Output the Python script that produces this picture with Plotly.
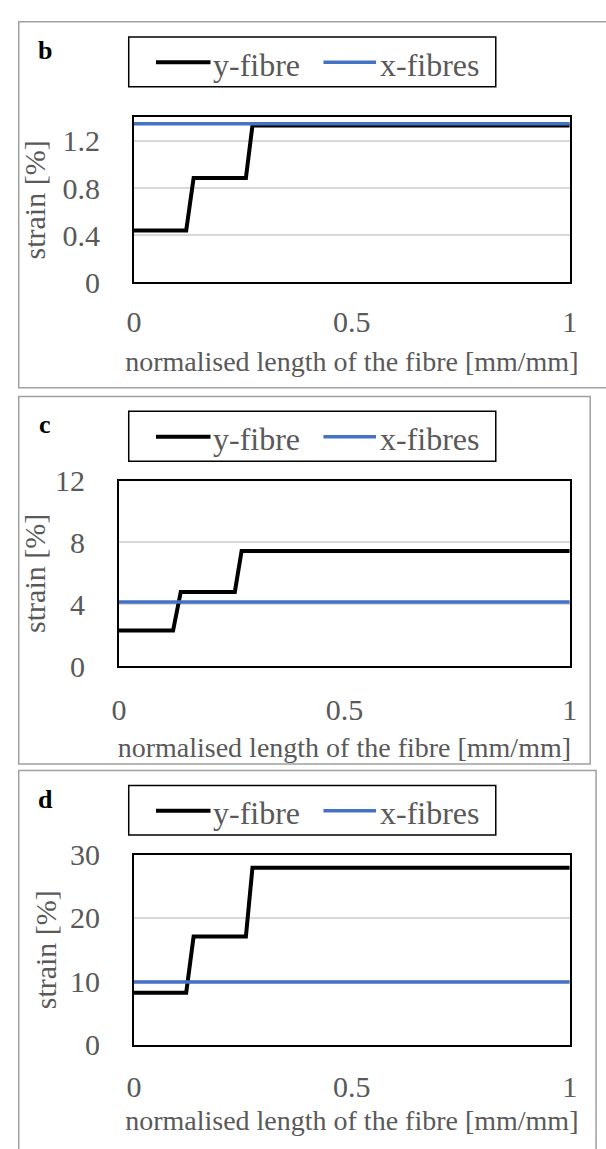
import plotly.graph_objects as go

W, H = 606, 1149

# ---------------- data ----------------
x_norm = [0, 0.12, 0.137, 0.257, 0.272, 1]
x_span = [0, 1]

y_fibre_b = [0.44, 0.44, 0.885, 0.885, 1.33, 1.33]
x_fibres_b = [1.345, 1.345]
y_fibre_c = [2.3, 2.3, 4.8, 4.8, 7.45, 7.45]
x_fibres_c = [4.15, 4.15]
y_fibre_d = [8.2, 8.2, 17.1, 17.1, 27.9, 27.9]
x_fibres_d = [9.9, 9.9]

panel_labels = ["b", "c", "d"]
series_names = ["y-fibre", "x-fibres"]
x_ticks = [0, 0.5, 1]
y_ticks_b = [0, 0.4, 0.8, 1.2]
y_ticks_c = [0, 4, 8, 12]
y_ticks_d = [0, 10, 20, 30]
y_max = [1.4, 12, 30]
x_title = "normalised length of the fibre [mm/mm]"
y_title = "strain [%]"

# ---------------- style ----------------
FONT = "Liberation Serif, Times New Roman, serif"
GREY = "#595959"
BLACK = "#000000"
BLUE = "#4472C4"
GRID = "#D9D9D9"
FRAME = "#A0A0A0"


def px(x):
    return x / W


def py(y):
    return 1 - y / H


# pixel geometry of each panel
panels = [
    dict(box=(11, 5, 660, 381.7), plot=(129.3, 103.3, 577, 273.3),
         legend=(124, 20.7, 501, 71.7), label=(38.5, 36.5),
         xstand=(12, 14), ystand=26, ytstand=8),
    dict(box=(11, 390.7, 598, 769), plot=(114, 477.3, 577, 668.3),
         legend=(124, 406, 501, 457.3), label=(38.5, 421.5),
         xstand=(16, 12), ystand=26, ytstand=0),
    dict(box=(11, 775.8, 604, 1220), plot=(129.3, 862.3, 577, 1058.3),
         legend=(124, 791.3, 501, 842.3), label=(38.5, 807.3),
         xstand=(14, 8), ystand=26, ytstand=4),
]

ys = [y_fibre_b, y_fibre_c, y_fibre_d]
xs = [x_fibres_b, x_fibres_c, x_fibres_d]
yticks = [y_ticks_b, y_ticks_c, y_ticks_d]

fig = go.Figure()
shapes = []
annotations = []
layout_axes = {}

for i in range(3):
    p = panels[i]
    sfx = "" if i == 0 else str(i + 1)
    xa, ya = "x" + sfx, "y" + sfx

    fig.add_trace(go.Scatter(x=x_norm, y=ys[i], mode="lines", name=series_names[0],
                             line=dict(color=BLACK, width=4),
                             xaxis=xa, yaxis=ya, showlegend=False))
    fig.add_trace(go.Scatter(x=x_span, y=xs[i], mode="lines", name=series_names[1],
                             line=dict(color=BLUE, width=3.5), xaxis=xa, yaxis=ya,
                             showlegend=False))

    l, t, r, b = p["plot"]
    layout_axes["xaxis" + sfx] = dict(
        domain=[px(l), px(r)], range=[0, 1], tickvals=x_ticks, anchor=ya,
        showgrid=False, zeroline=False, showline=True, mirror=True,
        linecolor=BLACK, linewidth=2, ticks="",
        tickfont=dict(family=FONT, size=30, color=GREY),
        ticklabelstandoff=p["xstand"][0],
        title=dict(text=x_title, font=dict(family=FONT, size=28, color=GREY),
                   standoff=p["xstand"][1]),
    )
    layout_axes["yaxis" + sfx] = dict(
        domain=[py(b), py(t)], range=[0, y_max[i]], tickvals=yticks[i], anchor=xa,
        showgrid=True, gridcolor=GRID, gridwidth=1.5, zeroline=False,
        showline=True, mirror=True, linecolor=BLACK, linewidth=2, ticks="",
        tickfont=dict(family=FONT, size=30, color=GREY),
        ticklabelstandoff=p["ystand"],
        title=dict(text=y_title, font=dict(family=FONT, size=30, color=GREY),
                   standoff=p["ytstand"]),
    )

    # panel frame
    bx0, by0, bx1, by1 = p["box"]
    shapes.append(dict(type="rect", xref="paper", yref="paper",
                       x0=px(bx0), x1=px(bx1), y0=py(by1), y1=py(by0),
                       line=dict(color=FRAME, width=1.5), layer="below"))

    # legend box
    lx0, ly0, lx1, ly1 = p["legend"]
    lc = (ly0 + ly1) / 2
    shapes.append(dict(type="rect", xref="paper", yref="paper",
                       x0=px(lx0), x1=px(lx1), y0=py(ly1), y1=py(ly0),
                       line=dict(color=BLACK, width=1.5)))
    shapes.append(dict(type="line", xref="paper", yref="paper",
                       x0=px(152), x1=px(208), y0=py(lc + 0.5), y1=py(lc + 0.5),
                       line=dict(color=BLACK, width=4)))
    shapes.append(dict(type="line", xref="paper", yref="paper",
                       x0=px(324), x1=px(378), y0=py(lc + 0.5), y1=py(lc + 0.5),
                       line=dict(color=BLUE, width=3.5)))
    annotations.append(dict(text=series_names[0], xref="paper", yref="paper",
                            x=px(209), y=py(lc + 3), xanchor="left", yanchor="middle",
                            showarrow=False, font=dict(family=FONT, size=32, color=GREY)))
    annotations.append(dict(text=series_names[1], xref="paper", yref="paper",
                            x=px(380), y=py(lc + 3), xanchor="left", yanchor="middle",
                            showarrow=False, font=dict(family=FONT, size=32, color=GREY)))

    # panel letter
    annotations.append(dict(text="<b>%s</b>" % panel_labels[i], xref="paper", yref="paper",
                            x=px(p["label"][0]), y=py(p["label"][1] - 2),
                            xanchor="center", yanchor="middle", showarrow=False,
                            font=dict(family=FONT, size=26, color=BLACK)))

fig.update_layout(
    width=W, height=H,
    margin=dict(l=0, r=0, t=0, b=0),
    paper_bgcolor="white", plot_bgcolor="white",
    showlegend=False,
    shapes=shapes, annotations=annotations,
    **layout_axes,
)

fig.write_html("out.html")
